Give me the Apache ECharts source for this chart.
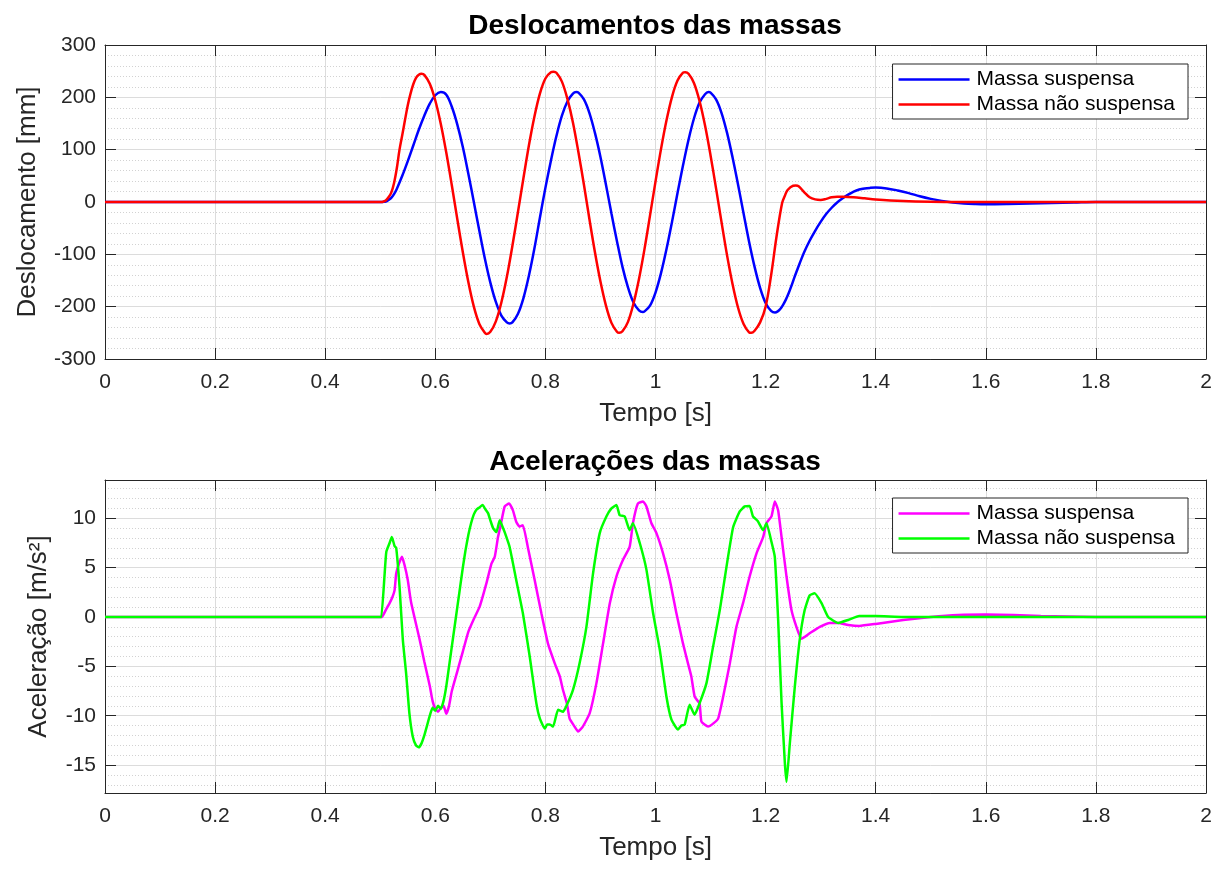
<!DOCTYPE html>
<html>
<head>
<meta charset="utf-8">
<script src="https://cdn.jsdelivr.net/npm/echarts@6/dist/echarts.min.js"></script>
<style>
html,body{margin:0;padding:0;background:#fff;}
#chart{width:1216px;height:869px;}
</style>
</head>
<body>
<div id="chart"></div>
<script>
// ---------- data ----------
const titles = ['Deslocamentos das massas', 'Acelerações das massas'];
const seriesNames = ['Massa suspensa', 'Massa não suspensa'];
const xName = 'Tempo [s]';
const yNames = ['Deslocamento [mm]', 'Aceleração [m/s²]'];

const xTicks = [0, 0.2, 0.4, 0.6, 0.8, 1, 1.2, 1.4, 1.6, 1.8, 2];
const yTicksDesloc = [-300, -200, -100, 0, 100, 200, 300];
const yTicksAcel = [-15, -10, -5, 0, 5, 10];
const yLimAcel = [-17.83, 13.88];

// displacement [t (s), mm]
const deslocSuspensa = [
[0,0],[0.5,0],[0.505,0.2],[0.51,1],[0.515,4],[0.52,8],[0.525,15],[0.53,25],[0.54,50],[0.55,78],[0.56,108],[0.57,138],[0.58,165],[0.59,188],[0.60,204],[0.61,210],[0.62,205],[0.63,182],[0.64,148],[0.65,105],[0.66,54],[0.67,0],[0.68,-55],[0.69,-108],[0.70,-154],[0.71,-191],[0.72,-217],[0.73,-230],[0.735,-232],[0.74,-230],[0.75,-214],[0.76,-184],[0.77,-141],[0.78,-89],[0.79,-30],[0.80,27],[0.81,79],[0.82,126],[0.83,165],[0.84,192],[0.85,207],[0.856,210],[0.86,209],[0.87,196],[0.88,170],[0.89,132],[0.90,86],[0.91,33],[0.92,-22],[0.93,-75],[0.94,-124],[0.95,-163],[0.96,-192],[0.97,-207],[0.977,-210],[0.98,-209],[0.99,-198],[1.00,-173],[1.01,-136],[1.02,-90],[1.03,-38],[1.04,17],[1.05,70],[1.06,119],[1.07,160],[1.08,190],[1.09,206],[1.096,210],[1.10,209],[1.11,196],[1.12,170],[1.13,132],[1.14,85],[1.15,33],[1.16,-22],[1.17,-76],[1.18,-124],[1.19,-164],[1.20,-193],[1.21,-208],[1.217,-211],[1.222,-209],[1.227,-204],[1.232,-196],[1.237,-186],[1.242,-174],[1.247,-160],[1.252,-145],[1.257,-131],[1.262,-117],[1.27,-96],[1.28,-74],[1.29,-55],[1.30,-38],[1.31,-23],[1.32,-11],[1.33,-1],[1.34,7],[1.35,14],[1.36,20],[1.37,24],[1.38,26],[1.39,27],[1.40,27.5],[1.42,26],[1.44,22],[1.46,17],[1.48,11],[1.50,6],[1.52,2],[1.54,-1],[1.56,-3],[1.58,-4],[1.60,-4.5],[1.64,-4],[1.68,-3],[1.72,-2],[1.76,-1],[1.80,0],[2,0]
];
const deslocNaoSuspensa = [
[0,0],[0.5,0],[0.505,0.5],[0.51,3],[0.515,9],[0.52,18],[0.525,36],[0.53,64],[0.535,100],[0.54,128],[0.545,157],[0.55,185],[0.555,207],[0.56,225],[0.565,237],[0.57,243],[0.575,245],[0.58,243],[0.59,226],[0.60,194],[0.61,149],[0.62,94],[0.63,32],[0.64,-33],[0.65,-96],[0.66,-153],[0.67,-200],[0.68,-233],[0.69,-250],[0.693,-252],[0.70,-248],[0.71,-228],[0.72,-192],[0.73,-143],[0.74,-84],[0.75,-20],[0.76,45],[0.77,108],[0.78,163],[0.79,207],[0.80,236],[0.81,248],[0.815,249],[0.82,247],[0.83,230],[0.84,197],[0.85,152],[0.86,95],[0.87,33],[0.88,-33],[0.89,-96],[0.90,-152],[0.91,-198],[0.92,-231],[0.93,-248],[0.934,-250],[0.94,-247],[0.95,-229],[0.96,-194],[0.97,-147],[0.98,-90],[0.99,-26],[1.00,39],[1.01,101],[1.02,156],[1.03,201],[1.04,232],[1.05,247],[1.054,248],[1.06,245],[1.07,227],[1.08,193],[1.09,146],[1.10,89],[1.11,26],[1.12,-39],[1.13,-102],[1.14,-157],[1.15,-202],[1.16,-233],[1.17,-249],[1.174,-250],[1.18,-246],[1.19,-230],[1.20,-200],[1.21,-140],[1.22,-65],[1.23,-2],[1.235,12],[1.24,23],[1.25,31],[1.255,31.5],[1.26,30],[1.27,19],[1.28,9],[1.29,5],[1.30,4],[1.31,6],[1.32,9],[1.33,10],[1.34,10],[1.36,9],[1.38,7],[1.40,5],[1.45,2],[1.50,0.5],[1.55,0],[2,0]
];

// acceleration [t (s), m/s²]
const acelSuspensa = [
[0,0],[0.5,0],[0.503,0],[0.510,0.7],[0.517,1.4],[0.522,2.0],[0.526,2.7],[0.529,4.4],[0.534,5.4],[0.5394,6.1],[0.544,5.3],[0.55,3.75],[0.556,1.5],[0.5716,-2.3],[0.58,-4.5],[0.59,-7.0],[0.595,-8.5],[0.60,-9.3],[0.605,-9.6],[0.61,-9.2],[0.615,-9.0],[0.62,-9.8],[0.625,-9.0],[0.63,-7.5],[0.64,-5.5],[0.65,-3.5],[0.66,-1.5],[0.67,-0.2],[0.6806,1.05],[0.6928,3.4],[0.702,5.4],[0.708,6.1],[0.7139,8.1],[0.7182,9.15],[0.726,11.2],[0.734,11.5],[0.741,10.8],[0.747,9.65],[0.753,9.15],[0.759,9.3],[0.768,7.1],[0.7805,3.75],[0.7927,0.37],[0.8047,-2.7],[0.817,-4.7],[0.826,-6.0],[0.832,-7.4],[0.839,-8.75],[0.844,-10.3],[0.853,-11.1],[0.8593,-11.6],[0.868,-11.1],[0.8805,-9.75],[0.8927,-6.7],[0.9047,-2.7],[0.917,1.4],[0.929,4.1],[0.941,5.8],[0.953,7.1],[0.959,9.5],[0.968,11.5],[0.9774,11.7],[0.9835,11.2],[0.9926,9.5],[1.0017,8.5],[1.0137,6.45],[1.026,3.75],[1.038,0.37],[1.05,-2.7],[1.059,-4.7],[1.065,-6.0],[1.0713,-8.1],[1.08,-8.75],[1.0835,-10.6],[1.0955,-11.1],[1.1046,-10.8],[1.1137,-10.3],[1.1228,-8.1],[1.135,-4.7],[1.147,-1.0],[1.159,1.4],[1.171,4.1],[1.1835,6.45],[1.1955,8.1],[1.2016,9.5],[1.2107,10.2],[1.2167,11.7],[1.2228,10.8],[1.229,8.1],[1.238,4.1],[1.247,0.7],[1.256,-1.0],[1.265,-2.2],[1.28,-1.65],[1.2985,-1.0],[1.3167,-0.6],[1.332,-0.6],[1.35,-0.8],[1.37,-0.9],[1.40,-0.7],[1.45,-0.3],[1.5,0.0],[1.55,0.2],[1.6,0.25],[1.65,0.2],[1.7,0.1],[1.8,0.0],[2,0]
];
const acelNaoSuspensa = [
[0,0],[0.5,0],[0.502,0],[0.508,4.4],[0.511,6.6],[0.517,7.5],[0.521,8.1],[0.526,7.2],[0.529,7.0],[0.535,3.1],[0.541,-2.3],[0.547,-5.7],[0.553,-9.8],[0.559,-12.1],[0.565,-13.0],[0.570,-13.2],[0.575,-12.8],[0.58,-12.0],[0.585,-11.0],[0.59,-10.0],[0.595,-9.2],[0.60,-9.5],[0.605,-9.0],[0.61,-9.3],[0.615,-8.5],[0.62,-7.0],[0.625,-5.0],[0.63,-3.0],[0.635,-1.0],[0.64,1.0],[0.645,3.0],[0.65,5.0],[0.655,6.8],[0.66,8.3],[0.665,9.5],[0.67,10.4],[0.675,10.9],[0.68,11.1],[0.686,11.35],[0.691,10.9],[0.696,10.5],[0.700,9.8],[0.705,9.0],[0.711,8.6],[0.717,9.8],[0.721,9.3],[0.726,8.6],[0.735,7.1],[0.747,3.75],[0.759,0.4],[0.7715,-4.0],[0.7836,-8.75],[0.79,-10.3],[0.799,-11.3],[0.803,-10.9],[0.808,-10.9],[0.814,-11.1],[0.823,-9.4],[0.832,-9.6],[0.839,-8.9],[0.85,-7.4],[0.862,-4.7],[0.8745,-1.0],[0.8865,4.4],[0.8987,8.5],[0.911,10.2],[0.92,11.0],[0.929,11.35],[0.935,10.3],[0.944,10.2],[0.953,8.8],[0.959,9.5],[0.9714,7.5],[0.9835,4.8],[0.9956,0.4],[1.0077,-3.3],[1.02,-8.1],[1.029,-10.4],[1.041,-11.4],[1.047,-11.0],[1.053,-10.9],[1.062,-8.9],[1.071,-9.9],[1.08,-8.75],[1.0926,-6.7],[1.1046,-3.0],[1.1168,0.7],[1.129,5.1],[1.141,9.1],[1.153,10.7],[1.162,11.2],[1.171,11.25],[1.177,10.2],[1.186,9.7],[1.1955,8.8],[1.2016,9.5],[1.2107,7.6],[1.2167,6.1],[1.2228,-0.3],[1.229,-8.7],[1.235,-14.8],[1.238,-16.7],[1.244,-12.8],[1.253,-7.1],[1.262,-2.3],[1.271,0.7],[1.28,2.2],[1.289,2.4],[1.3016,1.4],[1.3136,0.0],[1.332,-0.6],[1.35,-0.3],[1.37,0.1],[1.4,0.1],[1.45,0.0],[2,0]
];

// ---------- styling ----------
const AX = '#262626';
const FONT = '"Liberation Sans", Arial, Helvetica, sans-serif';
const MAJOR = '#dcdcdc';
const MINOR = '#d2d2d2';
const GRID_TOP = [45, 480];
const GRID_H = [314, 313];
const L = 105, R = 10;

// minor grid values for acceleration plot (every 1 unit, excluding major)
const minorAcel = [];
for (let v = Math.ceil(yLimAcel[0]); v <= Math.floor(yLimAcel[1]); v++) {
  if (yTicksAcel.indexOf(v) < 0) minorAcel.push(v);
}

function xMain(gi) {
  return {
    type: 'value', gridIndex: gi, position: 'bottom',
    min: xTicks[0], max: xTicks[xTicks.length - 1], interval: 0.2,
    name: xName, nameLocation: 'middle', nameGap: 42,
    nameTextStyle: { fontSize: 26, color: AX, fontFamily: FONT },
    axisLine: { show: true, onZero: false, lineStyle: { color: AX, width: 1 } },
    axisTick: { show: true, inside: true, length: 11, lineStyle: { color: AX } },
    axisLabel: { show: true, margin: 13, fontSize: 21, color: AX, fontFamily: FONT },
    splitLine: { show: true, lineStyle: { color: MAJOR, width: 1 } },
    minorTick: { show: false }, minorSplitLine: { show: false }
  };
}
function xMirror(gi) {
  return {
    type: 'value', gridIndex: gi, position: 'top',
    min: xTicks[0], max: xTicks[xTicks.length - 1], interval: 0.2,
    axisLine: { show: true, onZero: false, lineStyle: { color: AX, width: 1 } },
    axisTick: { show: true, inside: true, length: 11, lineStyle: { color: AX } },
    axisLabel: { show: false }, splitLine: { show: false }
  };
}
function legendCfg(top, names) {
  return {
    orient: 'vertical', right: 28, top: top, itemWidth: 71, itemHeight: 2.5, itemGap: 4,
    icon: 'rect',
    padding: [5, 13, 4, 6], borderColor: AX, borderWidth: 1, backgroundColor: '#fff',
    borderRadius: 0, selectedMode: false,
    textStyle: { fontSize: 21, color: '#000', fontFamily: FONT, padding: [0, 0, 0, 2] },
    data: names,
    formatter: n => (n === names[0] ? seriesNames[0] : seriesNames[1])
  };
}
function lineSeries(name, gi, data, color, z, smooth) {
  return { name: name, type: 'line', xAxisIndex: gi * 2, yAxisIndex: gi * 2, data: data,
    showSymbol: false, symbol: 'none', smooth: smooth,
    lineStyle: { color: color, width: 2.5 }, itemStyle: { color: color }, z: z };
}

const option = {
  backgroundColor: '#ffffff',
  animation: false,
  textStyle: { fontFamily: FONT },
  grid: [
    { left: L, right: R, top: GRID_TOP[0], height: GRID_H[0], containLabel: false },
    { left: L, right: R, top: GRID_TOP[1], height: GRID_H[1], containLabel: false }
  ],
  xAxis: [xMain(0), xMirror(0), xMain(1), xMirror(1)],
  yAxis: [
    { type: 'value', gridIndex: 0, position: 'left',
      min: yTicksDesloc[0], max: yTicksDesloc[yTicksDesloc.length - 1], interval: 100,
      name: yNames[0], nameLocation: 'middle', nameGap: 64, nameRotate: 90,
      nameTextStyle: { fontSize: 26, color: AX, fontFamily: FONT },
      axisLine: { show: true, onZero: false, lineStyle: { color: AX, width: 1 } },
      axisTick: { show: true, inside: true, length: 11, lineStyle: { color: AX } },
      axisLabel: { show: true, margin: 9, fontSize: 21, color: AX, fontFamily: FONT },
      splitLine: { show: true, lineStyle: { color: MAJOR, width: 1 } },
      minorTick: { show: false, splitNumber: 5 },
      minorSplitLine: { show: true, lineStyle: { color: MINOR, width: 1, type: [1, 2] } }
    },
    { type: 'value', gridIndex: 0, position: 'right',
      min: yTicksDesloc[0], max: yTicksDesloc[yTicksDesloc.length - 1], interval: 100,
      axisLine: { show: true, onZero: false, lineStyle: { color: AX, width: 1 } },
      axisTick: { show: true, inside: true, length: 11, lineStyle: { color: AX } },
      axisLabel: { show: false }, splitLine: { show: false }
    },
    { type: 'value', gridIndex: 1, position: 'left',
      min: yLimAcel[0], max: yLimAcel[1],
      name: yNames[1], nameLocation: 'middle', nameGap: 53, nameRotate: 90,
      nameTextStyle: { fontSize: 26, color: AX, fontFamily: FONT },
      axisLine: { show: true, onZero: false, lineStyle: { color: AX, width: 1 } },
      axisTick: { show: true, inside: true, length: 11, lineStyle: { color: AX }, customValues: yTicksAcel },
      axisLabel: { show: true, margin: 9, fontSize: 21, color: AX, fontFamily: FONT, customValues: yTicksAcel },
      splitLine: { show: true, lineStyle: { color: MAJOR, width: 1 } }
    },
    { type: 'value', gridIndex: 1, position: 'right',
      min: yLimAcel[0], max: yLimAcel[1],
      axisLine: { show: true, onZero: false, lineStyle: { color: AX, width: 1 } },
      axisTick: { show: true, inside: true, length: 11, lineStyle: { color: AX }, customValues: yTicksAcel },
      axisLabel: { show: false, customValues: yTicksAcel }, splitLine: { show: false }
    },
    { type: 'value', gridIndex: 1, position: 'left',
      min: yLimAcel[0], max: yLimAcel[1],
      axisLine: { show: false },
      axisTick: { show: false, customValues: minorAcel },
      axisLabel: { show: false, customValues: minorAcel },
      splitLine: { show: true, lineStyle: { color: MINOR, width: 1, type: [1, 2] } }
    }
  ],
  legend: [legendCfg(64, ['d_susp', 'd_nsusp']), legendCfg(498, ['a_susp', 'a_nsusp'])],
  graphic: [
    { type: 'text', x: 655, y: 26, style: { text: titles[0], fill: '#000', font: 'bold 28px ' + FONT, textAlign: 'center', textVerticalAlign: 'middle' } },
    { type: 'text', x: 655, y: 462, style: { text: titles[1], fill: '#000', font: 'bold 28px ' + FONT, textAlign: 'center', textVerticalAlign: 'middle' } }
  ],
  series: [
    lineSeries('d_susp', 0, deslocSuspensa, '#0000ff', 3, 0.35),
    lineSeries('d_nsusp', 0, deslocNaoSuspensa, '#ff0000', 4, 0.35),
    lineSeries('a_susp', 1, acelSuspensa, '#ff00ff', 3, 0.15),
    lineSeries('a_nsusp', 1, acelNaoSuspensa, '#00ff00', 4, 0.15)
  ]
};

const chart = echarts.init(document.getElementById('chart'), null, { renderer: 'canvas' });
chart.setOption(option);
</script>
</body>
</html>
